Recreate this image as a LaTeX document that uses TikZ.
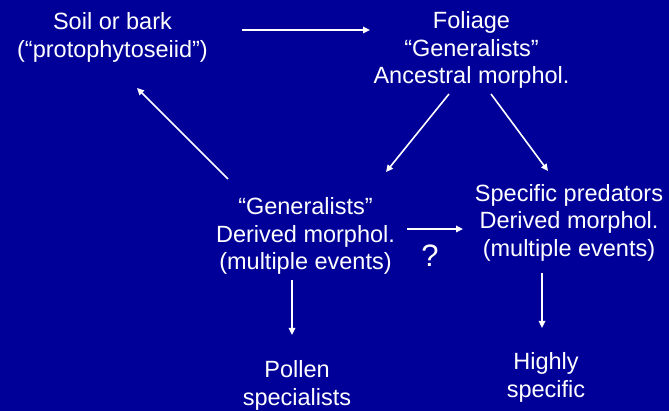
\documentclass[tikz,border=0pt]{standalone}
\usepackage{fontspec}
\setmainfont{Liberation Sans}
\usetikzlibrary{arrows.meta}

\definecolor{slideblue}{HTML}{000099}

\begin{document}
\begin{tikzpicture}[x=1pt, y=1pt]
    \fill[slideblue] (0, 0) rectangle (669, 411);
    \useasboundingbox (0, 0) rectangle (669, 411);
    \begin{scope}[all/.style={text=white, align=center, inner sep=0pt, font=\fontsize{23.5}{27.5}\selectfont}]
        \node[all] (soil) at (112.5, 373.5) {Soil or bark\\(“protophytoseiid”)};
        \node[all] (fol) at (471.5, 361) {Foliage\\“Generalists”\\Ancestral morphol.};
        \node[all] (gen) at (305.5, 175) {“Generalists”\\Derived morphol.\\(multiple events)};
        \node[all] (spec) at (569, 188.5) {Specific predators\\Derived morphol.\\(multiple events)};
        \node[all] (pollen) at (297, 25.5) {Pollen\\specialists};
        \node[all] (high) at (546, 33.5) {Highly\\specific};
        \node[all, font=\fontsize{31}{35}\selectfont] (q) at (430, 155.5) {?};
        \begin{scope}[white, line width=1.6pt, -{Triangle[length=7pt, width=6.5pt]}]
        \draw ([shift={(129.5, 7.5)}]soil.center) -- ([shift={(-101.5, 20)}]fol.center);
        \draw ([shift={(-77.5, 57)}]gen.center) -- ([shift={(24.5, -50.5)}]soil.center);
        \draw ([shift={(-22.5, -44)}]fol.center) -- ([shift={(80.5, 64)}]gen.center);
        \draw ([shift={(19.5, -44)}]fol.center) -- ([shift={(-21, 51.5)}]spec.center);
        \draw ([shift={(101.5, 7)}]gen.center) -- ([shift={(-106, -6.5)}]spec.center);
        \draw ([shift={(-13.5, -44)}]gen.center) -- ([shift={(-5, 50.5)}]pollen.center);
        \draw ([shift={(-27, -50.5)}]spec.center) -- ([shift={(-4, 49.5)}]high.center);
        \end{scope}
    \end{scope}
\end{tikzpicture}
\end{document}
